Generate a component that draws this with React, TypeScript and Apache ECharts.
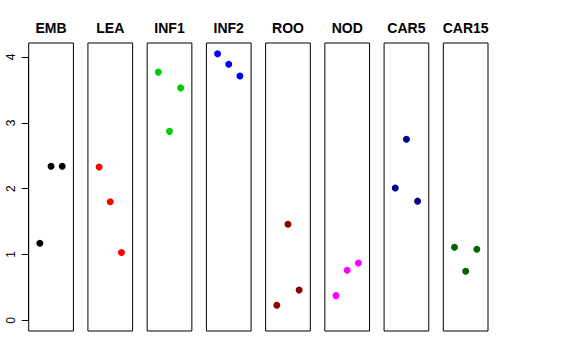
import React, { useEffect, useRef } from "react";
import * as echarts from "echarts";

const groups = ["EMB", "LEA", "INF1", "INF2", "ROO", "NOD", "CAR5", "CAR15"];
const colors = ["#000000", "#FF0000", "#00CD00", "#0000FF", "#8B0000", "#FF00FF", "#00008B", "#006400"];
const positions = [1, 2, 3];
const values = [
  [1.17, 2.34, 2.34],
  [2.33, 1.8, 1.03],
  [3.77, 2.87, 3.53],
  [4.05, 3.89, 3.71],
  [0.23, 1.46, 0.46],
  [0.375, 0.76, 0.87],
  [2.01, 2.75, 1.81],
  [1.11, 0.745, 1.08],
];
const yTicks = [0, 1, 2, 3, 4];

export default function App() {
  const ref = useRef<HTMLDivElement>(null);
  useEffect(() => {
    if (!ref.current) return;
    const chart = echarts.init(ref.current, null, { renderer: "svg" });
    const left0 = 28.7;
    const step = 59.23;
    const w = 44.7;
    const top = 43;
    const h = 288;
    const ymin = -0.162;
    const ymax = 4.212;
    const grids: any[] = [];
    const xAxes: any[] = [];
    const yAxes: any[] = [];
    const series: any[] = [];
    const titles: any[] = [];
    groups.forEach((g, i) => {
      const l = left0 + i * step;
      grids.push({ left: l, top, width: w, height: h, show: true, borderColor: "#000", borderWidth: 1, backgroundColor: "transparent" });
      xAxes.push({ gridIndex: i, type: "value", min: 0, max: 4, show: false });
      yAxes.push({ gridIndex: i, type: "value", min: ymin, max: ymax, show: false });
      series.push({
        type: "scatter",
        xAxisIndex: i,
        yAxisIndex: i,
        symbol: "circle",
        symbolSize: 7,
        itemStyle: { color: colors[i], opacity: 1 },
        data: positions.map((p, k) => [p, values[i][k]]),
      });
      titles.push({
        text: g,
        left: l + w / 2,
        top: 21,
        padding: 0,
        textAlign: "center",
        textStyle: { fontFamily: "Liberation Sans", fontWeight: "bold", fontSize: 14, color: "#000" },
      });
    });
    // y axis grid
    const y0px = top + h - (0 - ymin) / (ymax - ymin) * h;
    const y4px = top + h - (4 - ymin) / (ymax - ymin) * h;
    grids.push({ left: left0, top: y4px, width: 1, height: y0px - y4px, show: false });
    xAxes.push({ gridIndex: 8, type: "value", min: 0, max: 1, show: false });
    yAxes.push({
      gridIndex: 8,
      type: "value",
      min: yTicks[0],
      max: yTicks[yTicks.length - 1],
      interval: 1,
      position: "left",
      axisLine: { show: true, lineStyle: { color: "#000", width: 1 } },
      axisTick: { show: true, length: 7, lineStyle: { color: "#000", width: 1 } },
      splitLine: { show: false },
      axisLabel: { show: true, rotate: 90, margin: 12, fontFamily: "Liberation Sans", fontSize: 12, color: "#000" },
    });
    chart.setOption({
      animation: false,
      backgroundColor: "#fff",
      title: titles,
      grid: grids,
      xAxis: xAxes,
      yAxis: yAxes,
      series,
    });
    return () => chart.dispose();
  }, []);
  return <div ref={ref} style={{ width: 576, height: 360, position: "absolute", left: 0, top: 0 }} />;
}
